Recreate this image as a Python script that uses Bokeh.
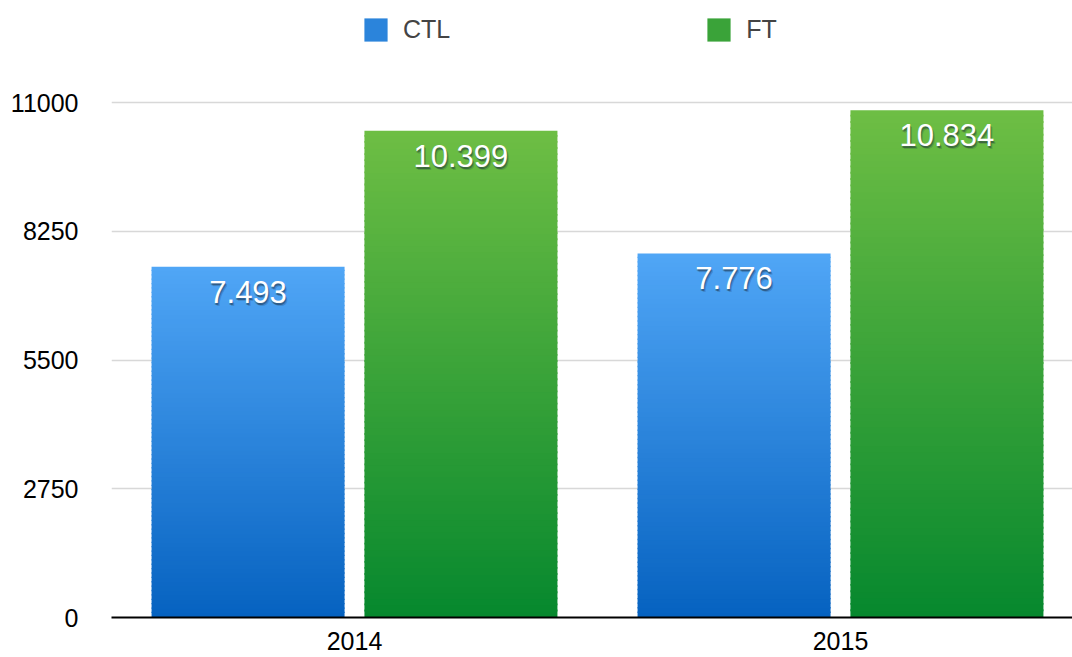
import numpy as np
from bokeh.plotting import figure
from bokeh.models import Range1d, FixedTicker, Legend, LegendItem, ColumnDataSource
from bokeh.core.properties import value
from bokeh.embed import file_html
from bokeh.resources import INLINE

years = ["2014", "2015"]
series = ["CTL", "FT"]
ctl = [7493, 7776]
ft = [10399, 10834]
ctl_labels = ["7.493", "7.776"]
ft_labels = ["10.399", "10.834"]
y_ticks = [0, 2750, 5500, 8250, 11000]

FONT = "Liberation Sans"
blue_top, blue_bot = (0x50, 0xA6, 0xF6), (0x06, 0x62, 0xC0)
green_top, green_bot = (0x6E, 0xBE, 0x44), (0x06, 0x88, 0x2E)

p = figure(width=1072, height=657, output_backend="svg", toolbar_location=None,
           min_border_left=111, min_border_right=0, min_border_top=0, min_border_bottom=40)
p.x_range = Range1d(0, 961 / 486)
p.y_range = Range1d(0, 11000 * 617 / 515)
p.outline_line_color = None
p.background_fill_color = "white"
p.border_fill_color = "white"

def hexc(c):
    return "#%02x%02x%02x" % tuple(int(round(v)) for v in c)

N = 80
x_idx = np.arange(len(years)) + 0.5
offsets = [-0.219, 0.219]
bar_w = 193 / 486

renderers = {}
for s_i, (vals, top_c, bot_c) in enumerate([(ctl, blue_top, blue_bot), (ft, green_top, green_bot)]):
    xs, tops, bots, cols = [], [], [], []
    for i, v in enumerate(vals):
        for k in range(N):
            t = (k + 0.5) / N
            c = [bot_c[j] + (top_c[j] - bot_c[j]) * t for j in range(3)]
            xs.append(x_idx[i] + offsets[s_i])
            bots.append(v * k / N)
            tops.append(v * (k + 1) / N + (v / N * 0.3 if k < N - 1 else 0))
            cols.append(hexc(c))
    src = ColumnDataSource(dict(x=xs, top=tops, bottom=bots, color=cols))
    p.vbar(x="x", top="top", bottom="bottom", width=bar_w, fill_color="color", line_color=None, source=src)
    mid = [(top_c[j] + bot_c[j]) / 2 for j in range(3)]
    renderers[series[s_i]] = p.vbar(x=[-10], top=[1], width=0.1, fill_color=hexc(mid), line_color=None)

# labels with shadow
for s_i, (vals, labs) in enumerate([(ctl, ctl_labels), (ft, ft_labels)]):
    lx = [x_idx[i] + offsets[s_i] for i in range(len(vals))]
    for dx, dy, a in [(1, 2, 0.35), (2, 3, 0.2), (0, 2, 0.2)]:
        p.text(x=lx, y=vals, text=labs, text_font=value(FONT), text_font_size="31px",
               text_align="center", text_baseline="middle", x_offset=dx, y_offset=25 + dy,
               text_color="#1a2a3a", text_alpha=a)
    p.text(x=lx, y=vals, text=labs, text_font=value(FONT), text_font_size="31px",
           text_align="center", text_baseline="middle", y_offset=25, text_color="white")

# axes
p.yaxis.ticker = FixedTicker(ticks=y_ticks)
p.yaxis.axis_line_color = None
p.yaxis.major_tick_line_color = None
p.yaxis.minor_tick_line_color = None
p.yaxis.major_label_standoff = 27
p.yaxis.major_label_text_font = FONT
p.yaxis.major_label_text_font_size = "25px"
p.yaxis.major_label_text_color = "black"

p.xaxis.ticker = FixedTicker(ticks=list(x_idx))
p.xaxis.major_label_overrides = {float(x): y for x, y in zip(x_idx, years)}
p.xaxis.axis_line_color = "black"
p.xaxis.axis_line_width = 2
p.xaxis.major_tick_line_color = None
p.xaxis.minor_tick_line_color = None
p.xaxis.major_label_standoff = 8
p.xaxis.major_label_text_font = FONT
p.xaxis.major_label_text_font_size = "25px"
p.xaxis.major_label_text_color = "black"

p.xgrid.grid_line_color = None
p.ygrid.grid_line_color = "#d8d8d8"
p.ygrid.grid_line_width = 1.5
p.ygrid.ticker = FixedTicker(ticks=y_ticks[1:])

legend = Legend(items=[LegendItem(label=s, renderers=[renderers[s]]) for s in series],
                orientation="horizontal", location=(250, 573), padding=0, margin=0,
                spacing=254, glyph_width=29, glyph_height=29, label_height=29,
                label_standoff=13,
                label_text_font=FONT, label_text_font_size="25px",
                border_line_color=None, background_fill_alpha=0)
p.add_layout(legend, "center")

open("out.html", "w").write(file_html(p, INLINE))
